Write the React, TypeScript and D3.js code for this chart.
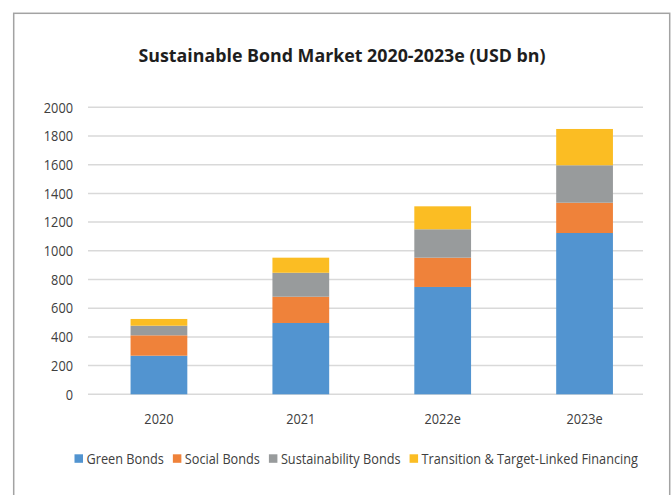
import React from "react";
import * as d3 from "d3";

const categories = ["2020", "2021", "2022e", "2023e"];
const seriesNames = [
  "Green Bonds",
  "Social Bonds",
  "Sustainability Bonds",
  "Transition & Target-Linked Financing",
];
const greenBonds = [269, 497, 748, 1124];
const socialBonds = [142, 183, 204, 211];
const sustainabilityBonds = [67, 167, 198, 261];
const transitionFinancing = [47, 105, 160, 253];
const yTicks = [0, 200, 400, 600, 800, 1000, 1200, 1400, 1600, 1800, 2000];
const colors = ["#5294d0", "#ef823a", "#989b9c", "#fbbd23"];

const W = 671;
const H = 495;
const FONT = "'Open Sans', 'DejaVu Sans', sans-serif";
const LABEL_SIZE = 14.5;
const CONDENSE = 0.88;

function measure(text: string, font: string): number {
  const c = document.createElement("canvas");
  const ctx = c.getContext("2d");
  if (!ctx) return text.length * 7;
  ctx.font = font;
  return ctx.measureText(text).width;
}

function CText(props: any) {
  const { children, size, ...rest } = props;
  const tw = measure(String(children), `${size}px ${FONT}`) * CONDENSE;
  return (
    <text {...rest} fontSize={size} textLength={tw} lengthAdjust="spacingAndGlyphs">
      {children}
    </text>
  );
}

export default function App() {
  const plotLeft = 88;
  const gridRight = 643;
  const bandRight = 655.5;
  const y = d3.scaleLinear().domain([0, 2000]).range([394.3, 107.3]);
  const x = d3
    .scaleBand<string>()
    .domain(categories)
    .range([plotLeft, bandRight])
    .paddingInner(0.6)
    .paddingOuter(0.3);

  const rows = categories.map((c, i) => ({
    cat: c,
    s0: greenBonds[i],
    s1: socialBonds[i],
    s2: sustainabilityBonds[i],
    s3: transitionFinancing[i],
  }));
  const stack = d3.stack<any>().keys(["s0", "s1", "s2", "s3"]);
  const layers = stack(rows);

  // legend layout
  const legendFont = `${LABEL_SIZE}px ${FONT}`;
  const sq = 8.5;
  const gapText = 3.5;
  const gapItem = 9;
  const startX = 74.5;
  const endX = 638;
  const raw = seriesNames.map((n) => measure(n, legendFont));
  const fixed = seriesNames.length * (sq + gapText) + (seriesNames.length - 1) * gapItem;
  const k = (endX - startX - fixed) / d3.sum(raw);
  let lx = startX;
  const legendItems = seriesNames.map((name, i) => {
    const tw = raw[i] * k;
    const item = { name, x: lx, tw, color: colors[i] };
    lx += sq + gapText + tw + gapItem;
    return item;
  });

  return (
    <svg
      width={W}
      height={H}
      style={{ position: "absolute", left: 0, top: 0, background: "#fff" }}
      fontFamily={FONT}
    >
      <rect x={0} y={0} width={W} height={H} fill="#fff" />
      <rect
        x={13.7}
        y={13.3}
        width={669.7 - 13.7}
        height={H + 20}
        fill="none"
        stroke="#a3a3a3"
        strokeWidth={1.5}
      />
      <text
        x={342}
        y={62}
        textAnchor="middle"
        fontWeight="bold"
        fontSize={18}
        fill="#1e1e1e"
        textLength={407}
        lengthAdjust="spacingAndGlyphs"
      >
        Sustainable Bond Market 2020-2023e (USD bn)
      </text>
      {yTicks.map((t) => (
        <g key={t}>
          <line
            x1={plotLeft}
            x2={gridRight}
            y1={y(t)}
            y2={y(t)}
            stroke="#d9d9d9"
            strokeWidth={1.5}
          />
          <CText
            x={73}
            y={y(t)}
            dy="0.36em"
            textAnchor="end"
            size={LABEL_SIZE}
            fill="#404040"
          >
            {t}
          </CText>
        </g>
      ))}
      {layers.map((layer, li) =>
        layer.map((d: any) => (
          <rect
            key={`${li}-${d.data.cat}`}
            x={x(d.data.cat)}
            width={x.bandwidth()}
            y={y(d[1])}
            height={y(d[0]) - y(d[1])}
            fill={colors[li]}
          />
        ))
      )}
      {categories.map((c) => (
        <CText
          key={c}
          x={(x(c) as number) + x.bandwidth() / 2}
          y={423.5}
          textAnchor="middle"
          size={LABEL_SIZE}
          fill="#404040"
        >
          {c}
        </CText>
      ))}
      {legendItems.map((it) => (
        <g key={it.name}>
          <rect x={it.x} y={454.3} width={sq} height={sq} fill={it.color} />
          <text
            x={it.x + sq + gapText}
            y={463.5}
            fontSize={LABEL_SIZE}
            fill="#404040"
            textLength={it.tw}
            lengthAdjust="spacingAndGlyphs"
          >
            {it.name}
          </text>
        </g>
      ))}
    </svg>
  );
}
